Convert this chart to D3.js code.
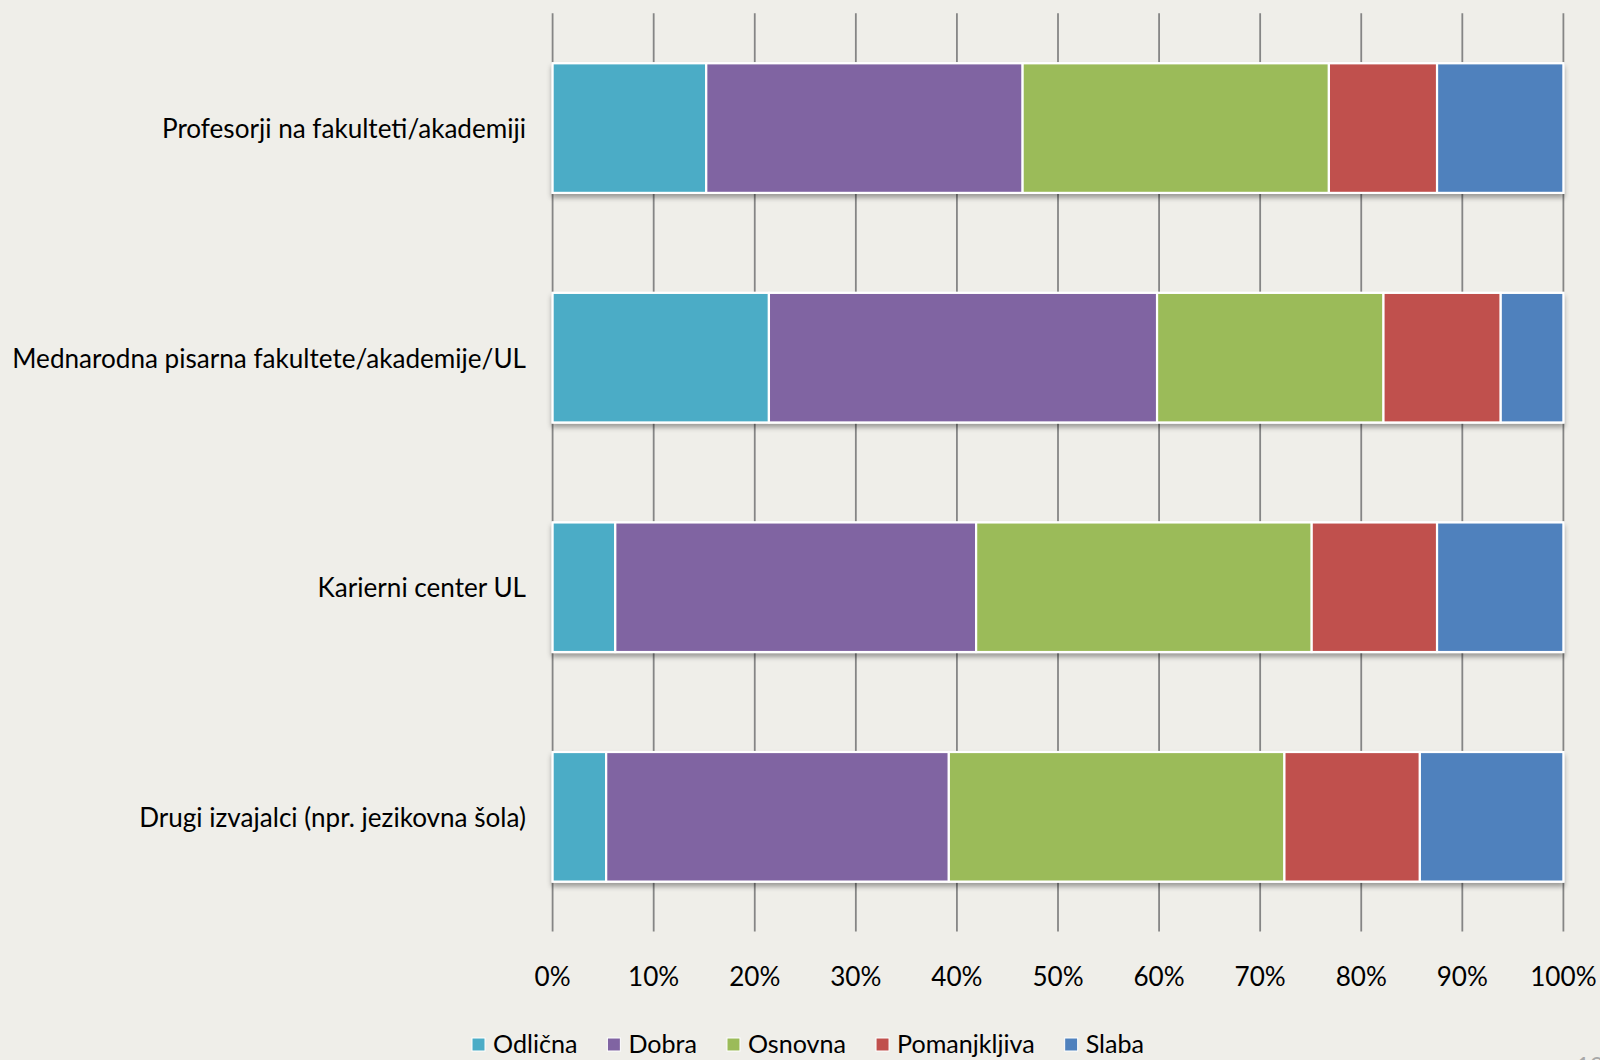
<!DOCTYPE html>
<html>
<head>
<meta charset="utf-8">
<script src="https://cdn.jsdelivr.net/npm/d3@7"></script>
<style>
  html, body { margin: 0; padding: 0; background: #EFEEE9; }
  svg { display: block; }
  text { font-family: Lato, "Open Sans", "Noto Sans", sans-serif; fill: #000; }
</style>
</head>
<body>
<svg id="chart" width="1600" height="1060"></svg>
<script>
// ---- data ----
const categories = [
  "Profesorji na fakulteti/akademiji",
  "Mednarodna pisarna fakultete/akademije/UL",
  "Karierni center UL",
  "Drugi izvajalci (npr. jezikovna šola)"
];
const seriesNames = ["Odlična", "Dobra", "Osnovna", "Pomanjkljiva", "Slaba"];
const odlicna      = [15.2, 21.4, 6.2, 5.3];
const dobra        = [31.3, 38.4, 35.7, 33.9];
const osnovna      = [30.3, 22.4, 33.2, 33.2];
const pomanjkljiva = [10.7, 11.6, 12.4, 13.4];
const slaba        = [12.5, 6.2, 12.5, 14.2];
const tickValues = [0, 0.1, 0.2, 0.3, 0.4, 0.5, 0.6, 0.7, 0.8, 0.9, 1.0];
const colors = ["#4BACC6", "#8064A2", "#9BBB59", "#C0504D", "#4F81BD"];

const seriesValues = [odlicna, dobra, osnovna, pomanjkljiva, slaba];
const table = categories.map((c, i) => {
  const row = { category: c };
  seriesNames.forEach((s, j) => row[s] = seriesValues[j][i]);
  return row;
});

// ---- layout ----
const svg = d3.select("#chart");
const W = 1600, H = 1060;
const plot = { left: 552.6, right: 1563.4, top: 13.3, bottom: 931.6 };

svg.append("rect").attr("width", W).attr("height", H).attr("fill", "#EFEEE9");

const defs = svg.append("defs");
const f = defs.append("filter").attr("id", "shadow")
  .attr("x", "-2%").attr("y", "-10%").attr("width", "104%").attr("height", "130%");
f.append("feDropShadow").attr("dx", 0).attr("dy", 4).attr("stdDeviation", 2.5)
  .attr("flood-color", "#000").attr("flood-opacity", 0.35);

const x = d3.scaleLinear().domain([0, 1]).range([plot.left, plot.right]);
const y = d3.scaleBand().domain(categories).range([plot.top, plot.bottom])
  .paddingInner(0.4355).paddingOuter(0.4355 / 2);

// gridlines
svg.append("g").selectAll("line").data(tickValues).join("line")
  .attr("x1", d => x(d)).attr("x2", d => x(d))
  .attr("y1", plot.top).attr("y2", plot.bottom)
  .attr("stroke", "#858585").attr("stroke-width", 1.8);

// stacked bars
const stack = d3.stack().keys(seriesNames).offset(d3.stackOffsetExpand);
const stacked = stack(table);

const barG = svg.append("g");
categories.forEach((c) => {
  const g = barG.append("g").attr("filter", "url(#shadow)");
  g.append("rect")
    .attr("x", x(0)).attr("y", y(c))
    .attr("width", x(1) - x(0)).attr("height", y.bandwidth())
    .attr("fill", "#ffffff").attr("stroke", "#ffffff").attr("stroke-width", 2);
});
barG.selectAll("g.series").data(stacked).join("g")
  .attr("class", "series")
  .attr("fill", (d, i) => colors[i])
  .selectAll("rect").data(d => d).join("rect")
  .attr("x", d => x(d[0]))
  .attr("y", d => y(d.data.category))
  .attr("width", d => x(d[1]) - x(d[0]))
  .attr("height", y.bandwidth())
  .attr("stroke", "#ffffff").attr("stroke-width", 2.2);

// category labels
const catG = svg.append("g");
const catText = catG.selectAll("text").data(categories).join("text")
  .attr("x", 526)
  .attr("y", d => y(d) + y.bandwidth() / 2)
  .attr("text-anchor", "end")
  .attr("dominant-baseline", "central")
  .style("font-size", "26px")
  .text(d => d);
let maxW = 0;
catText.each(function () { maxW = Math.max(maxW, this.getComputedTextLength()); });
const catSize = 26 * 514 / maxW;
catText.style("font-size", catSize + "px");

// x axis tick labels
const axisG = svg.append("g").attr("transform", `translate(0, 976)`);
axisG.selectAll("text").data(tickValues).join("text")
  .attr("x", d => x(d))
  .attr("text-anchor", "middle")
  .attr("dominant-baseline", "central")
  .style("font-size", catSize + "px")
  .text(d => d3.format(".0%")(d));

// legend
const legend = svg.append("g");
const items = legend.selectAll("g").data(seriesNames).join("g");
items.append("rect")
  .attr("width", 13).attr("height", 13)
  .attr("y", -5)
  .attr("fill", (d, i) => colors[i])
  .attr("stroke", "#ffffff").attr("stroke-width", 1);
items.append("text")
  .attr("x", 21)
  .attr("dominant-baseline", "central")
  .style("font-size", (catSize - 1) + "px")
  .text(d => d);
let cx = 0;
const offs = [];
items.each(function () {
  const tw = d3.select(this).select("text").node().getComputedTextLength();
  offs.push(cx);
  cx += 21 + tw + 30;
});
const totalW = cx - 30;
const startX = 808 - totalW / 2;
items.attr("transform", (d, i) => `translate(${startX + offs[i]}, 1043)`);

// page number (partially off-page, as in the reference)
svg.append("text").attr("x", 1576).attr("y", 1074)
  .style("font-size", "24px").style("fill", "#a8a8a8").text("10");
</script>
</body>
</html>
